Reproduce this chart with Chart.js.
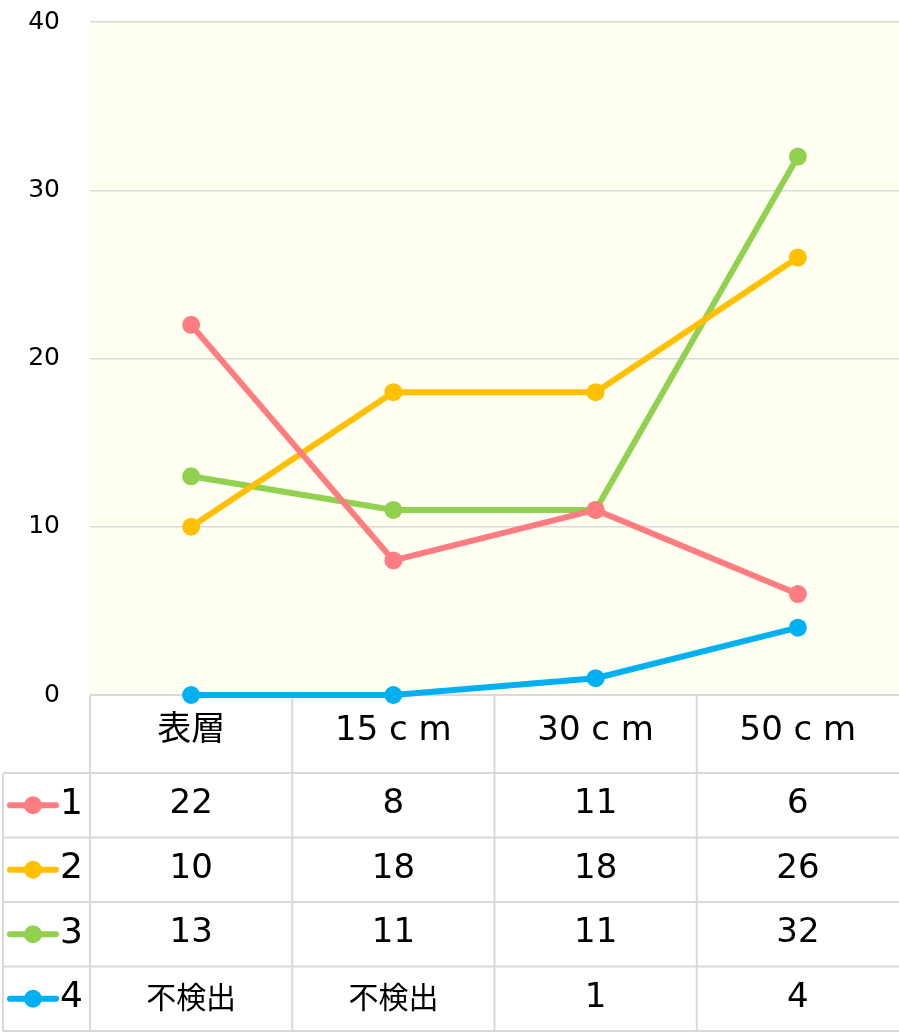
<!DOCTYPE html>
<html>
<head>
<meta charset="utf-8">
<script src="https://cdn.jsdelivr.net/npm/chart.js@4"></script>
<style>
  body { margin: 0; background: #fff; }
  #wrap { width: 899px; height: 1033px; }
</style>
</head>
<body>
<div id="wrap"><canvas id="grafico"></canvas></div>
<script>
const categorias = ["表層", "15 c m", "30 c m", "50 c m"];
const nomes = ["1", "2", "3", "4"];
const serie1 = [22, 8, 11, 6];
const serie2 = [10, 18, 18, 26];
const serie3 = [13, 11, 11, 32];
const serie4 = [0, 0, 1, 4];
// 不検出 = não detectado, plotado como 0
const naoDetectado4 = [true, true, false, false];
const yTicks = [0, 10, 20, 30, 40];

const cores = ["#ff7c80", "#ffc000", "#92d050", "#00b0f0"];
const series = [serie1, serie2, serie3, serie4];
const flags = [null, null, null, naoDetectado4];

const FONTE = "'DejaVu Sans', 'Noto Sans CJK JP', sans-serif";
const GRADE = "#d9d9d9";
const ALT_CAB = 78;
const ALT_LINHA = 64.5;

// fundo da área do gráfico
const fundo = {
  id: "fundo",
  beforeDraw(chart) {
    const { ctx, chartArea: a } = chart;
    ctx.save();
    ctx.fillStyle = "#fffff2";
    ctx.fillRect(a.left, a.top, a.right - a.left, a.bottom - a.top);
    ctx.restore();
  }
};

// tabela de dados embaixo do gráfico
const tabela = {
  id: "tabela",
  beforeDatasetsDraw(chart) {
    const { ctx, chartArea: a } = chart;
    const larg = (a.right - a.left) / categorias.length;
    const topo = a.bottom;
    const fim = topo + ALT_CAB + ALT_LINHA * nomes.length;
    ctx.save();
    ctx.strokeStyle = GRADE;
    ctx.lineWidth = 2;
    ctx.beginPath();
    // horizontais
    ctx.moveTo(a.left, topo); ctx.lineTo(a.right, topo);
    for (let i = 0; i <= nomes.length; i++) {
      const y = topo + ALT_CAB + ALT_LINHA * i;
      ctx.moveTo(3, y); ctx.lineTo(a.right, y);
    }
    // verticais
    ctx.moveTo(3, topo + ALT_CAB); ctx.lineTo(3, fim);
    for (let j = 0; j < categorias.length; j++) {
      const xx = a.left + larg * j;
      ctx.moveTo(xx, topo); ctx.lineTo(xx, fim);
    }
    ctx.stroke();
    ctx.restore();
  },
  afterDraw(chart) {
    const { ctx, chartArea: a } = chart;
    const x = chart.scales.x;
    const topo = a.bottom;

    ctx.save();
    ctx.fillStyle = "#000";
    ctx.textAlign = "center";
    ctx.textBaseline = "middle";
    ctx.font = "34px " + FONTE;
    categorias.forEach((c, j) => {
      ctx.fillText(c, x.getPixelForValue(j), topo + ALT_CAB / 2 - 3);
    });

    series.forEach((s, i) => {
      const yc = topo + ALT_CAB + ALT_LINHA * i + ALT_LINHA / 2 - 1;
      // legenda
      ctx.strokeStyle = cores[i];
      ctx.lineWidth = 6;
      ctx.lineCap = "round";
      ctx.beginPath();
      ctx.moveTo(10, yc + 1); ctx.lineTo(56, yc + 1);
      ctx.stroke();
      ctx.fillStyle = cores[i];
      ctx.beginPath();
      ctx.arc(33, yc + 1, 9, 0, Math.PI * 2);
      ctx.fill();
      ctx.fillStyle = "#000";
      ctx.textAlign = "left";
      ctx.font = "36px " + FONTE;
      ctx.fillText(nomes[i], 60, yc);
      ctx.textAlign = "center";
      s.forEach((v, j) => {
        const nd = flags[i] && flags[i][j];
        ctx.font = (nd ? "30px " : "34px ") + FONTE;
        ctx.fillText(nd ? "不検出" : String(v), x.getPixelForValue(j), yc + (nd ? 2 : 0));
      });
    });
    ctx.restore();
  }
};

new Chart(document.getElementById("grafico"), {
  type: "line",
  data: {
    labels: categorias,
    datasets: series.map((s, i) => ({
      label: nomes[i],
      data: s,
      borderColor: cores[i],
      backgroundColor: cores[i],
      pointBackgroundColor: cores[i],
      pointBorderWidth: 0,
      pointRadius: 9,
      borderWidth: 6,
      tension: 0,
      clip: false
    }))
  },
  options: {
    responsive: true,
    maintainAspectRatio: false,
    animation: false,
    layout: { autoPadding: false, padding: { top: 22, bottom: 338, left: 0, right: 0 } },
    plugins: { legend: { display: false }, tooltip: { enabled: false } },
    scales: {
      x: {
        display: false,
        offset: true
      },
      y: {
        min: 0,
        max: 40,
        afterFit: s => {
          s.width = 90;
          s.paddingTop = 0;
          s.paddingBottom = 0;
        },
        afterBuildTicks: s => { s.ticks = yTicks.map(v => ({ value: v })); },
        border: { display: false },
        grid: { color: GRADE, lineWidth: 1.5, drawTicks: false },
        ticks: {
          padding: 30,
          color: "#000",
          font: { family: FONTE, size: 25 }
        }
      }
    }
  },
  plugins: [fundo, tabela]
});
</script>
</body>
</html>
